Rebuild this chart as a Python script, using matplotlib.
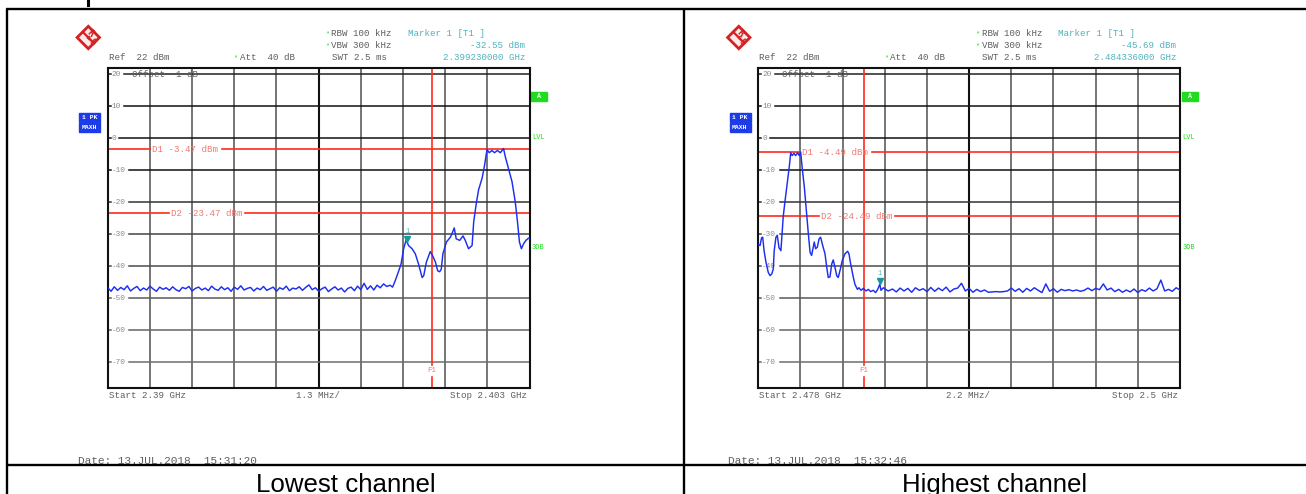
import numpy as np
import matplotlib.pyplot as plt
from matplotlib.patches import Rectangle, Polygon
import matplotlib.transforms as mtransforms

W, H = 1306, 494

captions = ['Lowest channel', 'Highest channel']
dates = ['Date: 13.JUL.2018  15:31:20', 'Date: 13.JUL.2018  15:32:46']
start_ghz = [2.390, 2.478]
stop_ghz = [2.403, 2.500]
start_text = ['Start 2.39 GHz', 'Start 2.478 GHz']
stop_text = ['Stop 2.403 GHz', 'Stop 2.5 GHz']
div_text = ['1.3 MHz/', '2.2 MHz/']
f1_ghz = [2.400, 2.4835]
d1_dbm = [-3.47, -4.49]
d2_dbm = [-23.47, -24.49]
marker_ghz = [2.399230, 2.484336]
marker_dbm = [-32.55, -45.69]
marker_freq_text = ['2.399230000 GHz', '2.484336000 GHz']
ref_dbm = 22
range_db = 100
levels = [20, 10, 0, -10, -20, -30, -40, -50, -60, -70]

# lowest channel: noise floor every 0.1 MHz from start, then the signal
low_noise_step = 0.1
low_noise_dbm = [-46.8, -47.9, -46.5, -47.6, -46.7, -47.4, -46.2, -47.8, -47.0, -46.4,
                 -47.7, -46.9, -47.5, -46.3, -47.2, -47.9, -46.6, -47.3, -46.8, -47.6,
                 -46.5, -47.4, -47.9, -46.7, -47.1, -46.4, -47.8, -47.0, -46.6, -47.5,
                 -46.9, -47.7, -46.3, -47.2, -47.6, -46.5, -47.4, -46.8, -47.9, -46.6,
                 -47.3, -46.2, -47.5, -47.0, -46.7, -47.8, -46.9, -47.4, -46.4, -47.6,
                 -47.1, -46.6, -47.9, -46.8, -47.3, -46.3, -47.7, -46.9, -47.2, -46.5,
                 -47.6, -46.7, -45.9, -47.4, -46.8, -47.9, -47.1, -46.6, -48.0, -47.2,
                 -46.5, -47.5, -46.9, -48.1, -47.0, -46.6, -47.7, -46.3, -47.4, -45.4,
                 -47.3, -46.2, -47.5, -46.0, -46.8]
low_sig_mhz = [8.5, 8.6, 8.7, 8.78, 8.86, 8.97, 9.04, 9.12, 9.20, 9.27, 9.38, 9.48, 9.58,
               9.69, 9.74, 9.82, 9.94, 10.01, 10.10, 10.17, 10.23, 10.28, 10.33, 10.44,
               10.56, 10.61, 10.68, 10.74, 10.85, 10.95, 11.02, 11.12, 11.23, 11.28, 11.36,
               11.43, 11.54, 11.61, 11.69, 11.76, 11.84, 11.92, 12.01, 12.10, 12.20, 12.25,
               12.36, 12.46, 12.56, 12.63, 12.69, 12.75, 12.82, 12.89, 12.97, 13.0]
low_sig_dbm = [-45.6, -46.4, -46.0, -46.6, -44.6, -41.5, -39.4, -34.6, -31.8, -33.6, -34.6,
               -36.2, -39.4, -43.6, -43.0, -38.8, -35.5, -36.7, -38.8, -41.5, -41.8, -41.0,
               -36.2, -32.5, -31.0, -29.9, -28.1, -31.5, -32.0, -30.6, -32.0, -34.6, -33.6,
               -26.2, -20.4, -16.2, -12.5, -8.8, -3.6, -4.6, -3.9, -4.6, -3.9, -4.6, -3.3,
               -5.7, -9.9, -13.6, -19.9, -26.2, -32.5, -34.6, -33.0, -32.0, -31.3, -31.5]

# highest channel: signal first, then noise floor every 0.2 MHz
high_sig_mhz = [0.0, 0.09, 0.17, 0.23, 0.30, 0.40, 0.52, 0.61, 0.70, 0.78, 0.83, 0.92, 0.99,
                1.08, 1.18, 1.22, 1.30, 1.39, 1.51, 1.62, 1.69, 1.77, 1.86, 1.95, 2.05, 2.14,
                2.21, 2.30, 2.40, 2.52, 2.61, 2.70, 2.78, 2.87, 2.92, 2.99, 3.08, 3.17, 3.25,
                3.36, 3.48, 3.57, 3.65, 3.74, 3.83, 3.91, 4.00, 4.09, 4.17, 4.28, 4.38, 4.52,
                4.66, 4.73, 4.82, 4.96, 5.04, 5.17, 5.25, 5.36, 5.48, 5.62, 5.74, 5.86, 6.00,
                6.12, 6.23, 6.34, 6.40, 6.52, 6.64, 6.78]
high_sig_dbm = [-33.3, -33.6, -31.2, -31.0, -35.2, -38.8, -42.0, -43.0, -42.5, -41.0, -35.2,
                -31.0, -30.4, -34.3, -35.2, -31.5, -24.6, -19.9, -14.1, -8.8, -4.6, -5.5,
                -4.8, -5.5, -4.6, -5.5, -4.4, -9.9, -15.2, -23.6, -29.9, -35.7, -36.7, -34.1,
                -32.5, -34.6, -34.1, -31.5, -31.0, -33.6, -36.2, -40.4, -43.6, -43.4, -39.4,
                -38.1, -40.4, -43.0, -43.6, -41.0, -38.3, -36.2, -35.4, -36.2, -39.4, -43.6,
                -45.7, -47.3, -46.8, -47.6, -47.0, -47.8, -47.3, -48.0, -47.6, -48.3, -47.3,
                -45.7, -47.6, -46.8, -47.3, -47.8]
high_noise_start = 7.0
high_noise_step = 0.2
high_noise_dbm = [-47.2, -48.1, -46.9, -47.8, -47.0, -48.2, -46.8, -47.6, -47.1, -48.0,
                  -46.7, -47.9, -46.9, -47.7, -46.6, -48.1, -47.2, -46.9, -45.4, -47.8,
                  -47.0, -48.2, -47.3, -48.0, -47.5, -48.2, -48.1, -48.0, -48.1, -48.0,
                  -47.8, -46.9, -47.9, -47.1, -48.2, -47.0, -47.8, -46.8, -47.6, -48.3,
                  -45.6, -47.9, -47.1, -48.2, -47.3, -47.7, -47.4, -47.8, -47.5, -47.9,
                  -47.6, -46.9, -47.7, -47.0, -47.4, -45.6, -47.5, -46.9, -48.0, -47.3,
                  -48.2, -47.5, -48.1, -47.2, -48.3, -47.4, -47.9, -46.9, -47.8, -47.1,
                  -44.4, -47.8, -47.3, -47.9, -46.8, -47.5]

low_mhz = np.concatenate([np.arange(len(low_noise_dbm)) * low_noise_step, low_sig_mhz])
low_lvl = np.concatenate([low_noise_dbm, low_sig_dbm])
high_mhz = np.concatenate([high_sig_mhz,
                           high_noise_start + np.arange(len(high_noise_dbm)) * high_noise_step])
high_lvl = np.concatenate([high_sig_dbm, high_noise_dbm])
traces = [(low_mhz, low_lvl), (high_mhz, high_lvl)]

MONO = 'Liberation Mono'
SANS = 'Liberation Sans'
GRAY = '#5e5e5e'
TEAL = '#4fb3bd'
RED = '#ff2a1a'
RED_TXT = '#f27a72'
GREEN = '#1fdc1f'
BLUE = '#1d3be6'
TRACE = '#1c2ef2'
LOGO = '#d42222'
FS = 6.6

fig = plt.figure(figsize=(W / 100, H / 100), dpi=100)
page = fig.add_axes([0, 0, 1, 1])
page.set_xlim(0, W)
page.set_ylim(H, 0)
page.axis('off')

# table frame
tk = dict(color='black', lw=1.7, zorder=6, solid_capstyle='butt')
page.plot([6, W], [9, 9], **tk)
page.plot([7, 7], [9, H], **tk)
page.plot([684, 684], [9, H], **tk)
page.plot([7, W], [465, 465], **tk)
page.add_patch(Rectangle((8, 466), W, 30, color='white', zorder=5))
page.plot([88, 88], [0, 5], color='black', lw=2.2)


def hdr(x, y, s, color=GRAY, ha='left', fs=FS):
    page.text(x, y, s, family=MONO, fontsize=fs, color=color, ha=ha, va='center')


for i in range(2):
    ox = 0 if i == 0 else 650.5
    x0, x1, y0, y1 = 107.8 + ox, 529.5 + ox, 67.6, 387.6

    # R&S logo
    cx, cy, r = 88.3 + ox, 37.5, 11.2
    page.add_patch(Polygon([(cx, cy - r), (cx + r, cy), (cx, cy + r), (cx - r, cy)],
                           closed=True, facecolor='#fbeaea', edgecolor=LOGO, lw=2.0))
    page.plot([cx - r / 2, cx + r / 2], [cy - r / 2, cy + r / 2], color=LOGO, lw=1.6)
    page.text(cx + 1.5, cy - 4, 'R', color=LOGO, fontsize=5.5, fontweight='bold',
              ha='center', va='center', rotation=-45)
    page.text(cx - 0.5, cy + 0.5, '&', color=LOGO, fontsize=4.5, fontweight='bold',
              ha='center', va='center', rotation=-45)
    page.text(cx + 3.5, cy + 4.5, 'S', color=LOGO, fontsize=5.5, fontweight='bold',
              ha='center', va='center', rotation=-45)

    # header texts
    hdr(325 + ox, 34, '*', GREEN, fs=5)
    hdr(331 + ox, 34, 'RBW 100 kHz')
    hdr(325 + ox, 46, '*', GREEN, fs=5)
    hdr(331 + ox, 46, 'VBW 300 kHz')
    hdr(332 + ox, 58, 'SWT 2.5 ms')
    hdr(233.5 + ox, 58, '*', GREEN, fs=5)
    hdr(239.5 + ox, 58, 'Att  40 dB')
    hdr(108.6 + ox, 58, 'Ref  22 dBm')
    hdr(408 + ox, 34, 'Marker 1 [T1 ]', TEAL)
    hdr(525.5 + ox, 46, '%.2f dBm' % marker_dbm[i], TEAL, ha='right')
    hdr(525.5 + ox, 58, marker_freq_text[i], TEAL, ha='right')

    # trace boxes
    for y, s in [(113, '1 PK'), (123, 'MAXH')]:
        page.add_patch(Rectangle((79 + ox, y), 21, 9, color=BLUE))
        page.text(89.5 + ox, y + 4.7, s, family=MONO, fontsize=4.6, fontweight='bold',
                  color='white', ha='center', va='center')
    page.add_patch(Rectangle((531 + ox, 92), 16, 9, color=GREEN))
    page.text(539 + ox, 96.7, 'A', family=MONO, fontsize=4.8, fontweight='bold',
              color='white', ha='center', va='center')
    hdr(532 + ox, 137, 'LVL', GREEN, fs=5)
    hdr(532 + ox, 247, '3DB', GREEN, fs=5)

    # footer texts
    hdr(108.8 + ox, 395, start_text[i])
    hdr(296 + ox, 395, div_text[i])
    hdr(527.5 + ox, 395, stop_text[i], ha='right')
    page.text(78 + ox, 455.5, dates[i], family=MONO, fontsize=8, color=GRAY,
              va='top', zorder=4)
    page.text((7 if i == 0 else 684) + (677 if i == 0 else 622) / 2, 491.5, captions[i],
              family=SANS, fontsize=18.6, ha='center', va='baseline', zorder=7)

    # analyzer screen
    ax = fig.add_axes([x0 / W, 1 - y1 / H, (x1 - x0) / W, (y1 - y0) / H])
    ax.set_xlim(start_ghz[i], stop_ghz[i])
    ax.set_ylim(ref_dbm - range_db, ref_dbm)
    ax.set_xticks([])
    ax.set_yticks([])
    for sp in ax.spines.values():
        sp.set_linewidth(1.5)
        sp.set_color('#111111')
    blend = mtransforms.blended_transform_factory(ax.transAxes, ax.transData)
    blend_x = mtransforms.blended_transform_factory(ax.transData, ax.transAxes)

    step = (stop_ghz[i] - start_ghz[i]) / 10
    for k in range(1, 10):
        ax.axvline(start_ghz[i] + k * step, color='#111111' if k == 5 else '#505050',
                   lw=1.5 if k == 5 else 1.1, zorder=1)

    shades = ['#222222', '#111111', '#111111', '#111111', '#333333',
              '#444444', '#4c4c4c', '#5a5a5a', '#666666', '#6e6e6e']
    for lev, col in zip(levels, shades):
        lab = str(lev)
        ax.axhline(lev, xmin=0, xmax=0.007, color=col, lw=1.1, zorder=1)
        ax.axhline(lev, xmin=(len(lab) * 5.2 + 6) / 421.7, xmax=1, color=col, lw=1.1, zorder=1)
        ax.text(0.009, lev, lab, transform=blend, family=MONO, fontsize=5.6, color='#8a8a8a',
                va='center', ha='left')
    ax.text(0.057, 20, 'Offset  1 dB', transform=blend, family=MONO, fontsize=FS,
            color=GRAY, va='center')

    # display lines
    ax.axhline(d1_dbm[i], xmin=0, xmax=0.10, color=RED, lw=1.2, zorder=2)
    ax.axhline(d1_dbm[i], xmin=0.27, xmax=1, color=RED, lw=1.2, zorder=2)
    ax.text(0.104, d1_dbm[i], 'D1 %.2f dBm' % d1_dbm[i], transform=blend, family=MONO,
            fontsize=FS, color=RED_TXT, va='center')
    ax.axhline(d2_dbm[i], xmin=0, xmax=0.145, color=RED, lw=1.2, zorder=2)
    ax.axhline(d2_dbm[i], xmin=0.325, xmax=1, color=RED, lw=1.2, zorder=2)
    ax.text(0.149, d2_dbm[i], 'D2 %.2f dBm' % d2_dbm[i], transform=blend, family=MONO,
            fontsize=FS, color=RED_TXT, va='center')
    ax.axvline(f1_ghz[i], ymin=0, ymax=0.033, color=RED, lw=1.2, zorder=2)
    ax.axvline(f1_ghz[i], ymin=0.07, ymax=1, color=RED, lw=1.2, zorder=2)
    ax.text(f1_ghz[i], 0.052, 'F1', transform=blend_x, family=MONO, fontsize=5.4,
            color=RED_TXT, ha='center', va='center')

    # trace
    mhz, lvl = traces[i]
    ax.plot(start_ghz[i] + np.asarray(mhz) / 1000, lvl, color=TRACE, lw=1.05, zorder=3)

    # marker
    up = mtransforms.offset_copy(ax.transData, fig=fig, x=0, y=2.2, units='points')
    ax.plot([marker_ghz[i]], [marker_dbm[i]], marker='v', ms=5, color='#16999a',
            transform=up, zorder=4)
    up2 = mtransforms.offset_copy(ax.transData, fig=fig, x=0, y=7.5, units='points')
    ax.text(marker_ghz[i], marker_dbm[i], '1', transform=up2, family=MONO, fontsize=5,
            color=TEAL, ha='center', va='center')

fig.savefig('out.png', dpi=100)
